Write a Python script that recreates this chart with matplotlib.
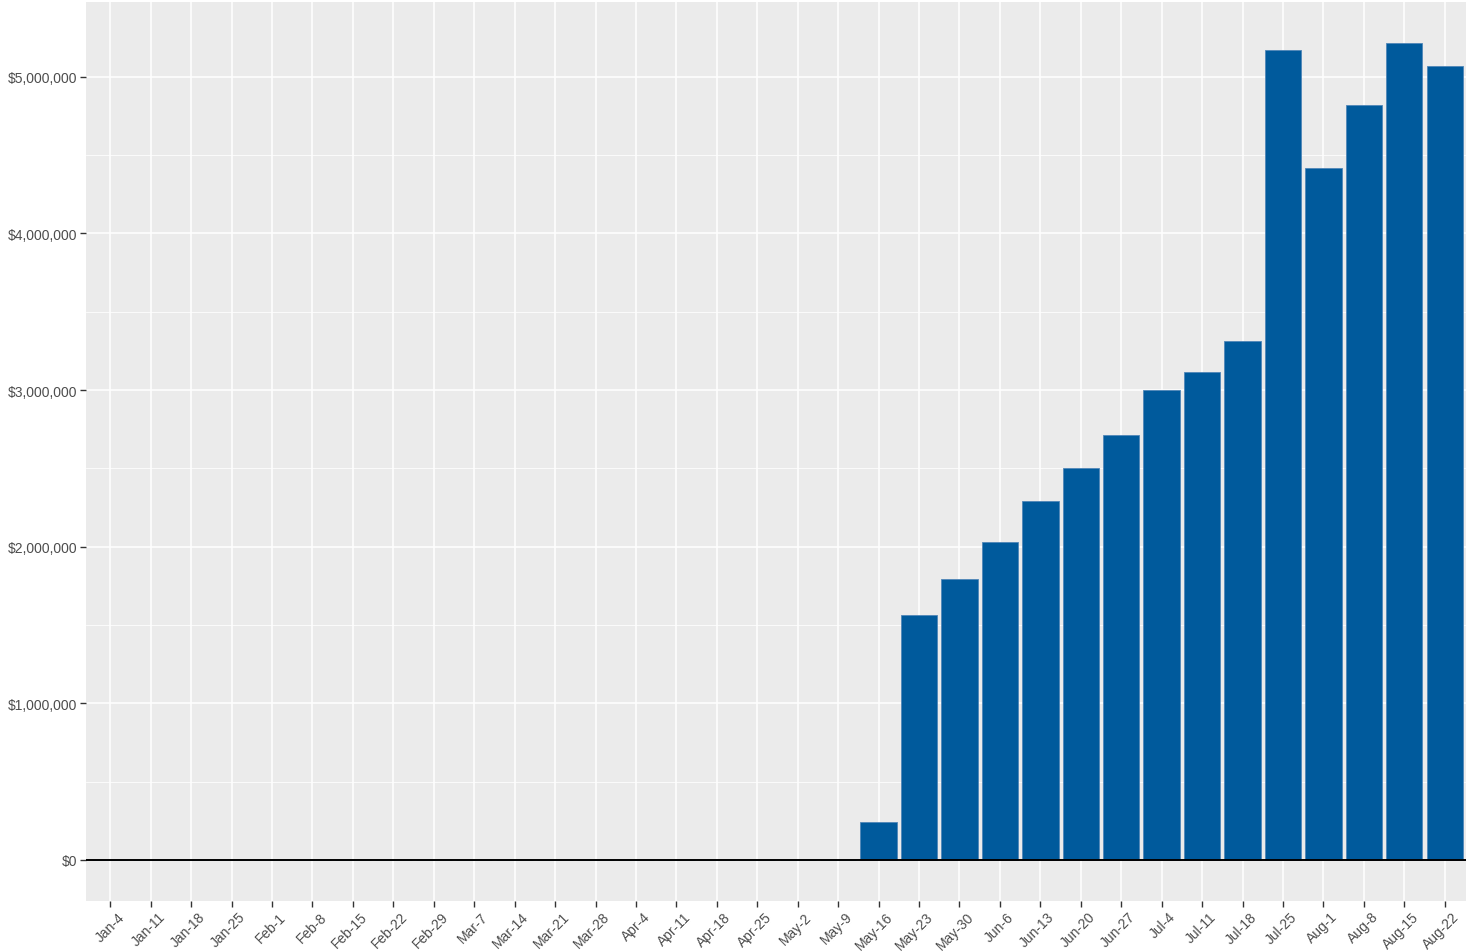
""" Weekly amounts bar chart, ggplot-like look
"""

import numpy as np
import matplotlib.pyplot as plt
import matplotlib.transforms as mtransforms
from matplotlib.ticker import FuncFormatter, MultipleLocator

plt.rcParams['font.family'] = ['Liberation Sans', 'DejaVu Sans']

# Data
weeks = ['Jan-4', 'Jan-11', 'Jan-18', 'Jan-25', 'Feb-1', 'Feb-8', 'Feb-15',
         'Feb-22', 'Feb-29', 'Mar-7', 'Mar-14', 'Mar-21', 'Mar-28', 'Apr-4',
         'Apr-11', 'Apr-18', 'Apr-25', 'May-2', 'May-9', 'May-16', 'May-23',
         'May-30', 'Jun-6', 'Jun-13', 'Jun-20', 'Jun-27', 'Jul-4', 'Jul-11',
         'Jul-18', 'Jul-25', 'Aug-1', 'Aug-8', 'Aug-15', 'Aug-22']
amounts = [0] * 19 + [243000, 1565000, 1794000, 2031000, 2292000, 2503000,
                      2714000, 3001000, 3116000, 3314000, 5172000, 4419000,
                      4819000, 5215000, 5068000]

W, H = 1466, 953
fig = plt.figure(figsize=(W / 100, H / 100), dpi=100)
ax = fig.add_axes([86 / W, (H - 902) / H, (1469 - 86) / W, (902 - 3) / H])

x = np.arange(len(weeks))
ax.set_facecolor('#EBEBEB')
ax.bar(x, amounts, width=0.9, color='#005A9C', edgecolor='#4F86B8',
       linewidth=0.6, zorder=3)
ax.axhline(0, color='black', linewidth=1.4, zorder=4)

ax.set_xlim(-0.6, len(weeks) - 0.4)
ax.set_ylim(-262000, 5477000)
ax.set_xticks(x)
ax.set_xticklabels(weeks, rotation=45, ha='right', rotation_mode='anchor')
ax.yaxis.set_major_locator(MultipleLocator(1000000))
ax.yaxis.set_minor_locator(MultipleLocator(500000))
ax.yaxis.set_major_formatter(FuncFormatter(lambda v, p: '${:,.0f}'.format(v)))

ax.grid(True, which='major', color='white', linewidth=1.1, zorder=0)
ax.grid(True, which='minor', axis='y', color='white', linewidth=0.55, zorder=0)
ax.set_axisbelow(True)
for s in ax.spines.values():
    s.set_visible(False)
ax.tick_params(axis='both', which='major', length=4, width=1, color='#333333',
               labelcolor='#4D4D4D', labelsize=10, pad=2)
ax.tick_params(axis='y', which='minor', length=0)

# shift x labels a bit right, like ggplot's hjust on rotated text
off = mtransforms.ScaledTranslation(7 / 100, 0, fig.dpi_scale_trans)
for lab in ax.get_xticklabels():
    lab.set_transform(lab.get_transform() + off)

plt.savefig('out.png', dpi=100)
